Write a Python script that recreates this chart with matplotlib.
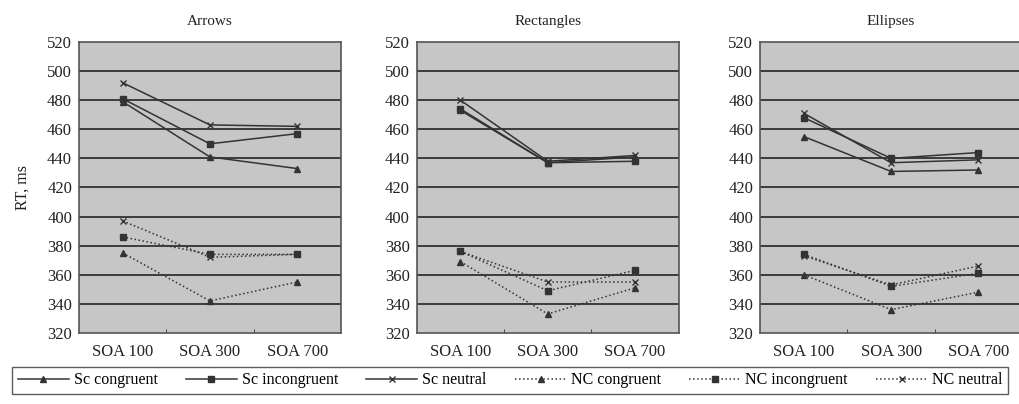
import numpy as np
import matplotlib
matplotlib.use("Agg")
import matplotlib.pyplot as plt
from matplotlib.lines import Line2D

plt.rcParams['font.family'] = ['Liberation Serif', 'DejaVu Serif']

# Datos
categories = ["SOA 100", "SOA 300", "SOA 700"]
panels = ["Arrows", "Rectangles", "Ellipses"]
series_names = ["Sc congruent", "Sc incongruent", "Sc neutral",
                "NC congruent", "NC incongruent", "NC neutral"]

arrows_sc_congruent = [479, 441, 433]
arrows_sc_incongruent = [481, 450, 457]
arrows_sc_neutral = [492, 463, 462]
arrows_nc_congruent = [375, 342, 355]
arrows_nc_incongruent = [386, 374, 374]
arrows_nc_neutral = [397, 372, 374]

rect_sc_congruent = [473, 437, 441]
rect_sc_incongruent = [474, 437, 438]
rect_sc_neutral = [480, 438, 442]
rect_nc_congruent = [369, 333, 351]
rect_nc_incongruent = [376, 349, 363]
rect_nc_neutral = [376, 355, 355]

ell_sc_congruent = [455, 431, 432]
ell_sc_incongruent = [468, 440, 444]
ell_sc_neutral = [471, 437, 439]
ell_nc_congruent = [360, 336, 348]
ell_nc_incongruent = [374, 352, 361]
ell_nc_neutral = [373, 353, 366]

y_ticks = [320, 340, 360, 380, 400, 420, 440, 460, 480, 500, 520]

panel_data = [
    [arrows_sc_congruent, arrows_sc_incongruent, arrows_sc_neutral,
     arrows_nc_congruent, arrows_nc_incongruent, arrows_nc_neutral],
    [rect_sc_congruent, rect_sc_incongruent, rect_sc_neutral,
     rect_nc_congruent, rect_nc_incongruent, rect_nc_neutral],
    [ell_sc_congruent, ell_sc_incongruent, ell_sc_neutral,
     ell_nc_congruent, ell_nc_incongruent, ell_nc_neutral],
]

# Estilos
markers = ['^', 's', 'x', '^', 's', 'x']
styles = ['-', '-', '-', ':', ':', ':']
line_col = '#333333'

fig = plt.figure(figsize=(10.19, 4.04), dpi=100)
lefts = [0.0775, 0.409, 0.746]
x = np.arange(len(categories))

for k, name in enumerate(panels):
    ax = fig.add_axes([lefts[k], 0.176, 0.257, 0.72])
    ax.set_facecolor('#c6c6c6')
    for yt in y_ticks[1:-1]:
        ax.axhline(yt, color='#3c3c3c', lw=1.4, zorder=1)
    for s, vals in enumerate(panel_data[k]):
        ax.plot(x, vals, linestyle=styles[s], marker=markers[s], color=line_col,
                lw=1.1, ms=5 if markers[s] != 'x' else 4.5, mew=1.0, zorder=3)
    ax.set_xlim(-0.5, 2.5)
    ax.set_ylim(320, 520)
    ax.set_yticks(y_ticks)
    ax.set_xticks(x)
    ax.set_xticklabels(categories)
    ax.set_xticks([0.5, 1.5], minor=True)
    ax.tick_params(axis='x', which='major', length=0, labelsize=12, pad=8, colors='#222222')
    ax.tick_params(axis='x', which='minor', length=3, direction='in', color='#333333')
    ax.tick_params(axis='y', length=0, labelsize=12, pad=5, colors='#222222')
    for sp in ax.spines.values():
        sp.set_color('#555555')
        sp.set_linewidth(1.2)
    ax.set_title(name, fontsize=11, pad=12, color='#222222')
    if k == 0:
        ax.set_ylabel("RT, ms", fontsize=11.5, labelpad=12, color='#222222')

# Leyenda
handles = []
for s in range(6):
    handles.append(Line2D([], [], linestyle=styles[s], marker=markers[s], color=line_col,
                          lw=1.1, ms=4, mew=1.0))
leg = fig.legend(handles, series_names, loc='lower left', bbox_to_anchor=(0.004, 0.005, 0.993, 0.085),
                 ncol=6, frameon=True, fancybox=False, fontsize=11.5, handlelength=3.2,
                 columnspacing=1.0, handletextpad=0.3, borderpad=0.35, mode='expand')
leg.get_frame().set_edgecolor('#333333')
leg.get_frame().set_linewidth(1.0)

fig.savefig("out.png", dpi=100)
